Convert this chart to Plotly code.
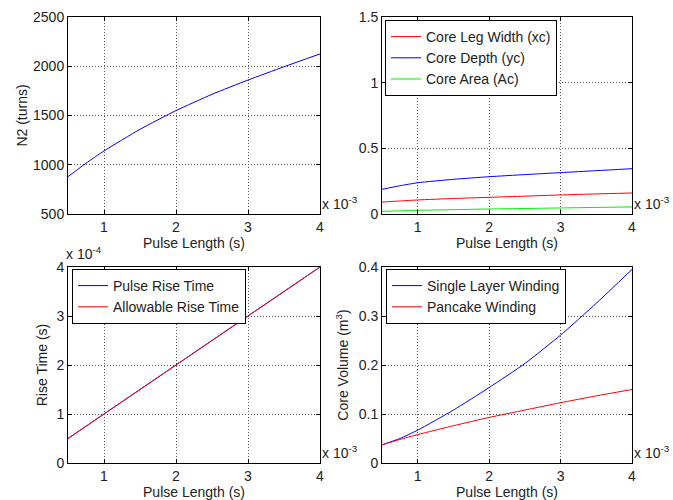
import plotly.graph_objects as go

# ---- data ----
pulse_length_ms = [0.5, 0.75, 1.0, 1.5, 2.0, 2.5, 3.0, 3.5, 4.0]  # x 10^-3 s
n2_turns = [879, 1015, 1140, 1360, 1550, 1715, 1860, 1995, 2125]

core_leg_width = [0.091, 0.099, 0.107, 0.118, 0.127, 0.136, 0.145, 0.153, 0.160]
core_depth = [0.188, 0.215, 0.238, 0.264, 0.284, 0.300, 0.315, 0.330, 0.345]
core_area = [0.020, 0.024, 0.028, 0.033, 0.038, 0.042, 0.046, 0.050, 0.054]

pulse_rise_time = [0.5, 0.75, 1.0, 1.5, 2.0, 2.5, 3.0, 3.5, 4.0]      # x 10^-4 s
allowable_rise_time = [0.5, 0.75, 1.0, 1.5, 2.0, 2.5, 3.0, 3.5, 4.0]  # x 10^-4 s

single_layer_vol = [0.037, 0.050, 0.067, 0.108, 0.154, 0.203, 0.261, 0.326, 0.395]
pancake_vol = [0.037, 0.048, 0.058, 0.076, 0.093, 0.108, 0.123, 0.137, 0.150]

x_ticks = [1, 2, 3, 4]

FONT = "Liberation Sans, Arial, sans-serif"
TXT = "#222222"

fig = go.Figure()

def add(x, y, color, name, xa, ya, legend=None):
    fig.add_trace(go.Scatter(
        x=x, y=y, mode="lines", name=name,
        line=dict(color=color, width=1, shape="spline", smoothing=0.5),
        xaxis=xa, yaxis=ya,
        showlegend=legend is not None,
        legend=legend if legend else "legend",
    ))

add(pulse_length_ms, n2_turns, "blue", "N2", "x", "y")
add(pulse_length_ms, core_leg_width, "red", "Core Leg Width (xc)", "x2", "y2", "legend")
add(pulse_length_ms, core_depth, "blue", "Core Depth (yc)", "x2", "y2", "legend")
add(pulse_length_ms, core_area, "#00ee00", "Core Area (Ac)", "x2", "y2", "legend")
add(pulse_length_ms, pulse_rise_time, "blue", "Pulse Rise Time", "x3", "y3", "legend2")
add(pulse_length_ms, allowable_rise_time, "red", "Allowable Rise Time", "x3", "y3", "legend2")
add(pulse_length_ms, single_layer_vol, "blue", "Single Layer Winding", "x4", "y4", "legend3")
add(pulse_length_ms, pancake_vol, "red", "Pancake Winding", "x4", "y4", "legend3")

W, H = 673, 500
def px_x(p): return p / W
def px_y(p): return 1 - p / H

xdom_l = [px_x(68), px_x(320)]
xdom_r = [px_x(382), px_x(632)]
ydom_t = [px_y(214), px_y(17)]
ydom_b = [px_y(463), px_y(267)]

axis_common = dict(
    showline=True, linecolor="black", linewidth=1, mirror="ticks",
    ticks="inside", ticklen=4, tickcolor="black",
    showgrid=True, gridcolor="#555555", griddash="1px,2px", gridwidth=1,
    zeroline=False, automargin=False,
    tickfont=dict(family=FONT, size=14, color=TXT),
    title_font=dict(family=FONT, size=14, color=TXT),
)

def xaxis(dom, anchor):
    return dict(axis_common, domain=dom, anchor=anchor, range=[0.5, 4],
                tickvals=x_ticks, ticktext=[str(t) for t in x_ticks],
                title=dict(text="Pulse Length (s)", standoff=2))

def yaxis(dom, anchor, rng, tv, title, standoff=8):
    return dict(axis_common, domain=dom, anchor=anchor, range=rng,
                tickvals=tv, ticktext=[("%g" % v) for v in tv],
                title=dict(text=title, standoff=standoff))

fig.update_layout(
    width=W, height=H,
    margin=dict(l=0, r=0, t=0, b=0, pad=0, autoexpand=False),
    paper_bgcolor="white", plot_bgcolor="white",
    font=dict(family=FONT, size=14, color=TXT),
    xaxis=xaxis(xdom_l, "y"),
    yaxis=yaxis(ydom_t, "x", [500, 2500], [500, 1000, 1500, 2000, 2500], "N2 (turns)", 2),
    xaxis2=xaxis(xdom_r, "y2"),
    yaxis2=yaxis(ydom_t, "x2", [0, 1.5], [0, 0.5, 1, 1.5], ""),
    xaxis3=xaxis(xdom_l, "y3"),
    yaxis3=yaxis(ydom_b, "x3", [0, 4], [0, 1, 2, 3, 4], "Rise Time (s)", 5),
    xaxis4=xaxis(xdom_r, "y4"),
    yaxis4=yaxis(ydom_b, "x4", [0, 0.4], [0, 0.1, 0.2, 0.3, 0.4], "Core Volume (m<sup>3</sup>)", 6),
)

leg_common = dict(
    bgcolor="white", bordercolor="black", borderwidth=1,
    font=dict(family=FONT, size=14, color=TXT),
    xanchor="left", yanchor="top", tracegroupgap=0, itemwidth=30,
)
fig.update_layout(
    legend=dict(leg_common, x=px_x(385), y=px_y(20)),
    legend2=dict(leg_common, x=px_x(72), y=px_y(269)),
    legend3=dict(leg_common, x=px_x(386), y=px_y(269)),
)

def mult(x, y, exp, size=14):
    fig.add_annotation(
        x=px_x(x), y=px_y(y), xref="paper", yref="paper",
        text="x 10<sup>%s</sup>" % exp, showarrow=False,
        xanchor="left", yanchor="middle", borderpad=0,
        font=dict(family=FONT, size=size, color=TXT),
    )

mult(321, 203, "-3")
mult(633, 203, "-3")
mult(321, 452, "-3")
mult(633, 452, "-3")
mult(65, 253, "-4")

fig.write_html("out.html", config={"displayModeBar": False},
               post_script="document.body.style.margin='0';document.body.style.padding='0';")
